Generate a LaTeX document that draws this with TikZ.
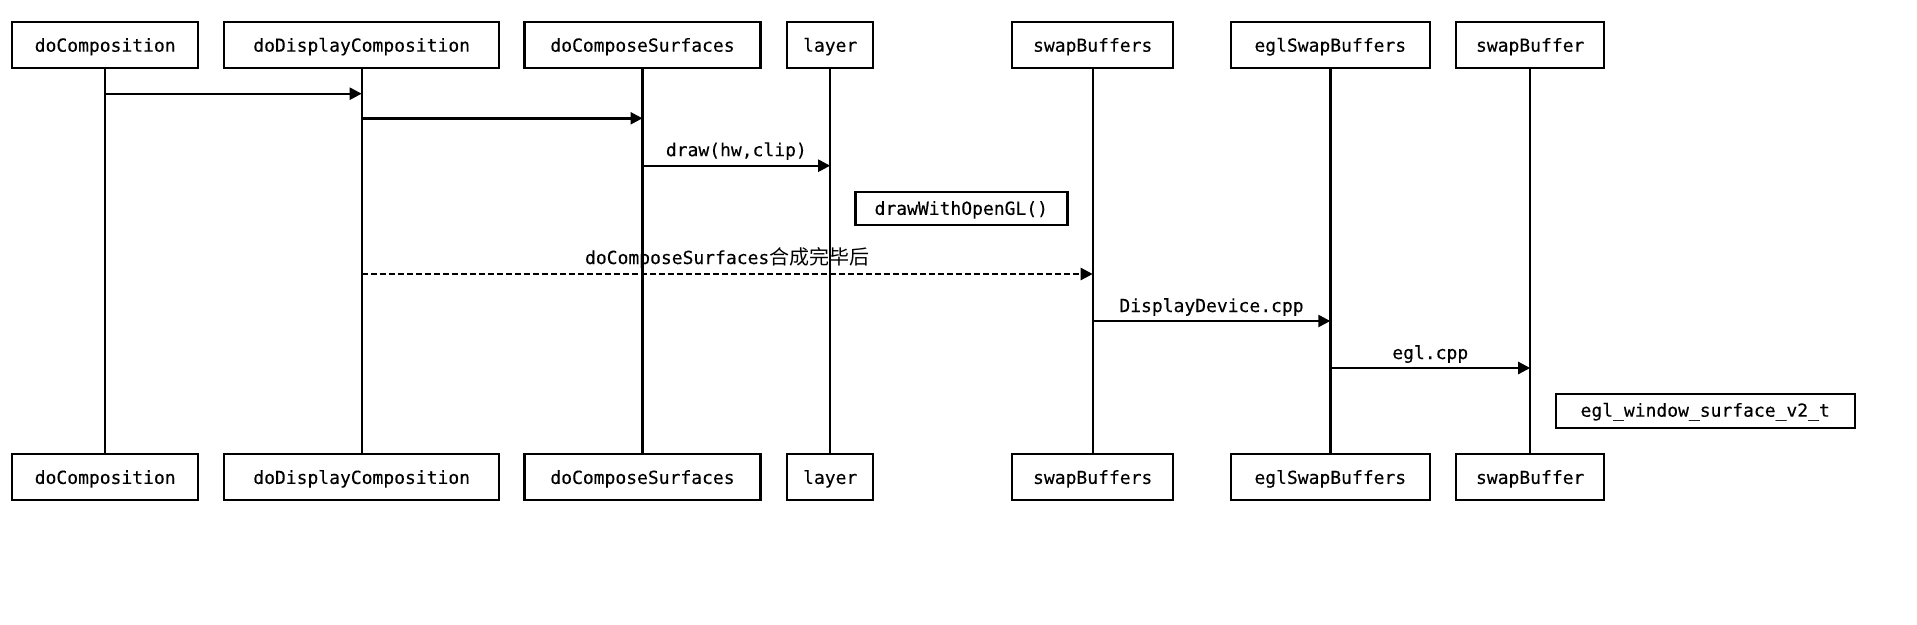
\documentclass[tikz,border=0pt]{standalone}
\usepackage{fontspec}
\newfontfamily\monof[FakeBold=0.25]{DejaVu Sans Mono}
\newfontfamily\cjk{Noto Sans CJK SC}
\usetikzlibrary{arrows.meta}
\begin{document}
\begin{tikzpicture}[x=1pt,y=-1pt,
  actor/.style={draw,line width=2.4pt,minimum height=46pt,inner sep=0pt,
    font=\fontsize{18}{20}\selectfont\monof,text height=16pt,text depth=2pt},
  notebox/.style={draw,line width=2.4pt,inner sep=0pt,
    font=\fontsize{18}{20}\selectfont\monof,text depth=2pt},
  life/.style={line width=2.4pt},
  msg/.style={line width=2.4pt,-{Triangle[length=12pt,width=12pt]}},
  dmsg/.style={msg,dash pattern=on 6pt off 3pt},
  lbl/.style={anchor=base,inner sep=0pt,font=\fontsize{18}{20}\selectfont\monof}]
\useasboundingbox (0,0) rectangle (1917,624);
% top boxes
\node[actor,minimum width=186pt] (t1) at (105.2,44.7) {doComposition};
\node[actor,minimum width=275pt] (t2) at (361.7,44.7) {doDisplayComposition};
\node[actor,minimum width=236pt] (t3) at (642.5,44.7) {doComposeSurfaces};
\node[actor,minimum width=86pt]  (t4) at (830.2,44.7) {layer};
\node[actor,minimum width=161pt] (t5) at (1092.7,44.7) {swapBuffers};
\node[actor,minimum width=199pt] (t6) at (1330.3,44.7) {eglSwapBuffers};
\node[actor,minimum width=148pt] (t7) at (1530.2,44.7) {swapBuffer};
% bottom boxes
\node[actor,minimum width=186pt] (b1) at (105.2,476.9) {doComposition};
\node[actor,minimum width=275pt] (b2) at (361.7,476.9) {doDisplayComposition};
\node[actor,minimum width=236pt] (b3) at (642.5,476.9) {doComposeSurfaces};
\node[actor,minimum width=86pt]  (b4) at (830.2,476.9) {layer};
\node[actor,minimum width=161pt] (b5) at (1092.7,476.9) {swapBuffers};
\node[actor,minimum width=199pt] (b6) at (1330.3,476.9) {eglSwapBuffers};
\node[actor,minimum width=148pt] (b7) at (1530.2,476.9) {swapBuffer};
% lifelines
\foreach \i in {1,...,7} { \draw[life] (t\i) -- (b\i); }
% notes
\node[notebox,minimum width=212pt,minimum height=33pt,text height=15pt] (n1) at (961.3,208.3) {drawWithOpenGL()};
\node[notebox,minimum width=299pt,minimum height=34pt,text height=13pt] (n2) at (1705.2,411.2) {egl\_window\_surface\_v2\_t};
% message rows
\coordinate (y1) at (0,93.7);
\coordinate (y2) at (0,118.3);
\coordinate (y3) at (0,165.7);
\coordinate (y4) at (0,274);
\coordinate (y5) at (0,321);
\coordinate (y6) at (0,368);
\draw[msg] (t1 |- y1) -- (t2 |- y1);
\draw[msg] (t2 |- y2) -- (t3 |- y2);
\draw[msg] (t3 |- y3) -- node[lbl,pos=0.5,yshift=9.5pt] (l3) {draw(hw,clip)} (t4 |- y3);
\draw[dmsg] (t2 |- y4) -- node[lbl,pos=0.5,yshift=10pt] (l4) {doComposeSurfaces{\cjk\fontsize{20}{22}\selectfont 合成完毕后}} (t5 |- y4);
\draw[msg] (t5 |- y5) -- node[lbl,pos=0.5,yshift=9pt] (l5) {DisplayDevice.cpp} (t6 |- y5);
\draw[msg] (t6 |- y6) -- node[lbl,pos=0.5,yshift=9pt] (l6) {egl.cpp} (t7 |- y6);
\end{tikzpicture}
\end{document}
